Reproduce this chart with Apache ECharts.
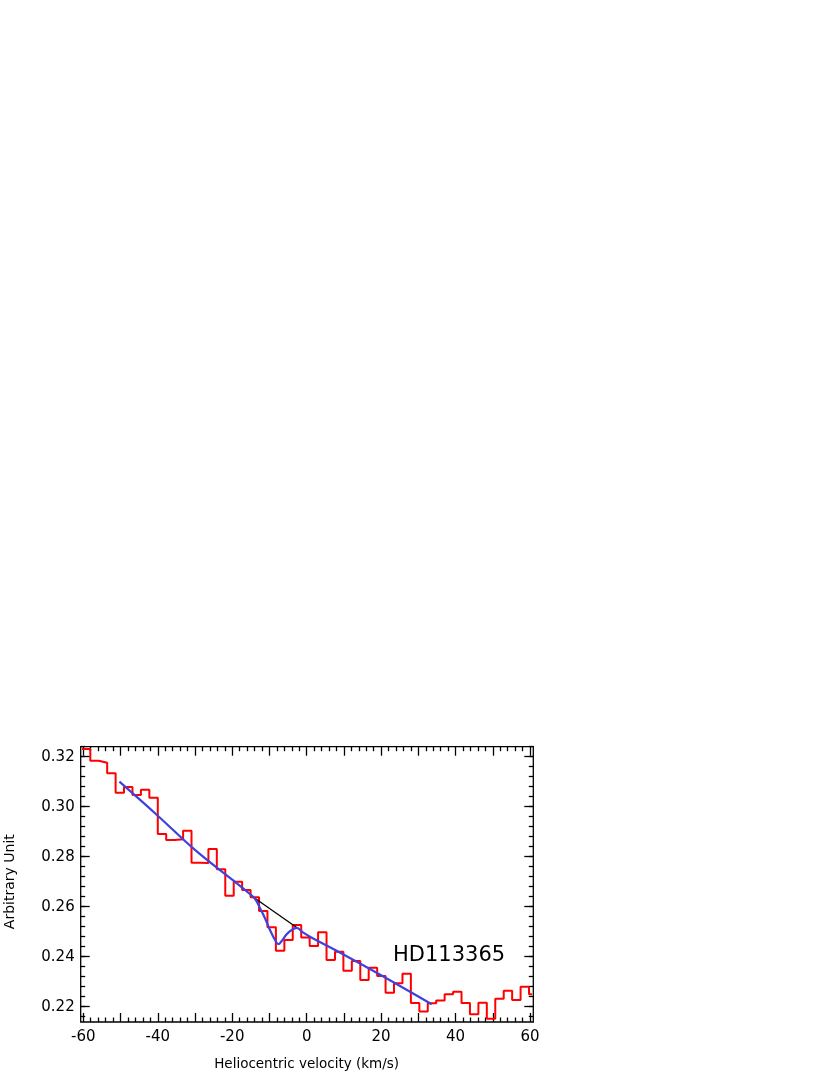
<!DOCTYPE html>
<html>
<head>
<meta charset="utf-8">
<script src="https://cdn.jsdelivr.net/npm/echarts@6/dist/echarts.min.js"></script>
<style>
  html, body { margin: 0; padding: 0; background: #fff; }
  #chart { width: 830px; height: 1075px; }
</style>
</head>
<body>
<div id="chart"></div>
<script>
    // 光谱分箱：每个箱的起点速度 (km/s)，最后一个值是画框右边
    let binStart = [-60.39, -58.12, -55.86, -53.59, -51.32, -49.06, -46.79, -44.52, -42.26, -39.99,
        -37.73, -35.46, -33.19, -30.93, -28.66, -26.39, -24.13, -21.86, -19.59, -17.33,
        -15.06, -12.79, -10.53, -8.26, -5.99, -3.73, -1.46, 0.81, 3.07, 5.34,
        7.61, 9.87, 12.14, 14.41, 16.67, 18.94, 21.20, 23.47, 25.74, 28.00,
        30.27, 32.54, 34.80, 37.07, 39.34, 41.60, 43.87, 46.14, 48.40, 50.67,
        52.94, 55.20, 57.47, 59.74, 60.9];
    // 每个箱的强度
    let flux = [0.3231, 0.3184, 0.3176, 0.3134, 0.3056, 0.3079, 0.3047, 0.3068, 0.3036, 0.2891,
        0.2867, 0.2870, 0.2904, 0.2776, 0.2775, 0.2831, 0.2750, 0.2644, 0.2700, 0.2667,
        0.2638, 0.2583, 0.2518, 0.2424, 0.2467, 0.2527, 0.2477, 0.2443, 0.2498, 0.2387,
        0.2420, 0.2344, 0.2383, 0.2307, 0.2356, 0.2323, 0.2256, 0.2294, 0.2332, 0.2215,
        0.2181, 0.2214, 0.2225, 0.2250, 0.2260, 0.2215, 0.2170, 0.2216, 0.2152, 0.2232,
        0.2264, 0.2227, 0.2280, 0.2250, 0.2250];
    // 拟合曲线（蓝）
    let fitVel = [-50.3, -40, -30, -20, -16.56, -13.9, -12.53, -11.19, -9.85, -8.5,
        -7.6, -6.7, -5.36, -4.02, -2.68, -0.9, 0.9, 10, 20, 33.6];
    let fitVal = [0.3100, 0.2964, 0.2827, 0.2708, 0.2667, 0.2632, 0.2594, 0.2554, 0.2507, 0.2467,
        0.2450, 0.2463, 0.2490, 0.2507, 0.2515, 0.2496, 0.2480, 0.2408, 0.2326, 0.2210];
    // 连续谱（黑），只在吸收线处露出来
    let contVel = [-13.9, -2.68];
    let contVal = [0.2634, 0.2517];
    // 刻度
    let xTicks = {min: -60, max: 60, step: 10, labelStep: 20};
    let yTicks = {min: 0.22, max: 0.32, step: 0.02};
    let yMinor = {min: 0.216, max: 0.324, step: 0.004};
    let starName = 'HD113365';

    let font = '"DejaVu Sans", Verdana, sans-serif';
    let tickStyle = {color: '#000', width: 1.3};

    let histData = binStart.map((v, i) => [v, flux[i]]);
    let fitData = fitVel.map((v, i) => [v, fitVal[i]]);
    let contData = contVel.map((v, i) => [v, contVal[i]]);

    let xTickAxis = function (pos, offset, showLabel) {
        return {
            type: 'value', gridIndex: 0, position: pos, offset: offset,
            min: xTicks.min, max: xTicks.max, interval: xTicks.step,
            axisLine: {show: false, onZero: false},
            axisTick: {inside: true, length: 9, lineStyle: tickStyle},
            minorTick: {show: true, splitNumber: 5, length: 4.5, lineStyle: tickStyle},
            splitLine: {show: false},
            axisLabel: {
                show: showLabel, margin: 8, fontSize: 15, color: '#000', fontFamily: font,
                formatter: function (v) {
                    return v % xTicks.labelStep === 0 ? String(v) : '';
                }
            }
        };
    };
    let yTickAxis = function (grid, pos, offset, range, len, showLabel) {
        return {
            type: 'value', gridIndex: grid, position: pos, offset: offset,
            min: range.min, max: range.max, interval: range.step,
            axisLine: {show: false, onZero: false},
            axisTick: {inside: true, length: len, lineStyle: tickStyle},
            splitLine: {show: false},
            axisLabel: {
                show: showLabel, margin: 6, fontSize: 15, color: '#000', fontFamily: font,
                formatter: function (v) {
                    return v.toFixed(2);
                }
            }
        };
    };

    let xBottom = xTickAxis('bottom', 15.3, true);
    xBottom.name = 'Heliocentric velocity (km/s)';
    xBottom.nameLocation = 'middle';
    xBottom.nameGap = 35;
    xBottom.nameTextStyle = {fontSize: 13.5, color: '#000', fontFamily: font};

    let yLeft = yTickAxis(0, 'left', 2.6, yTicks, 9, true);
    yLeft.name = 'Arbitrary Unit';
    yLeft.nameLocation = 'middle';
    yLeft.nameGap = 63;
    yLeft.nameTextStyle = {fontSize: 14, color: '#000', fontFamily: font};

    let myChart = echarts.init(document.getElementById('chart'));
    let option = {
        backgroundColor: '#fff',
        animation: false,
        grid: [
            // 数据区
            {left: 83.3, right: 300, top: 756.7, bottom: 68.3, outerBoundsMode: 'none'},
            // 纵轴小刻度
            {left: 80.7, right: 296.7, top: 746.7, bottom: 58.3, outerBoundsMode: 'none'},
            // 外框
            {left: 80.7, right: 296.7, top: 746.7, bottom: 53, show: true, outerBoundsMode: 'none',
                borderColor: '#000', borderWidth: 1.3, backgroundColor: 'transparent'}
        ],
        xAxis: [
            xBottom,
            xTickAxis('top', 10, false),
            {type: 'value', gridIndex: 1, show: false},
            {type: 'value', gridIndex: 2, show: false}
        ],
        yAxis: [
            yLeft,
            yTickAxis(0, 'right', 3.3, yTicks, 9, false),
            yTickAxis(1, 'left', 0, yMinor, 4.5, false),
            yTickAxis(1, 'right', 0, yMinor, 4.5, false),
            {type: 'value', gridIndex: 2, show: false}
        ],
        graphic: [{
            type: 'text', left: 393, top: 945,
            style: {text: starName, font: '21px ' + font, fill: '#000'}
        }],
        series: [{
            name: 'spectrum',
            type: 'line',
            xAxisIndex: 0, yAxisIndex: 0,
            step: 'end',
            clip: false,
            showSymbol: false,
            symbol: 'none',
            lineStyle: {color: '#ff0000', width: 2},
            data: histData,
            z: 2
        }, {
            name: 'continuum',
            type: 'line',
            xAxisIndex: 0, yAxisIndex: 0,
            clip: false,
            symbol: 'none',
            lineStyle: {color: '#000', width: 1.3},
            data: contData,
            z: 3
        }, {
            name: 'fit',
            type: 'line',
            xAxisIndex: 0, yAxisIndex: 0,
            clip: false,
            symbol: 'none',
            smooth: 0.4,
            lineStyle: {color: '#4040dd', width: 2.2},
            data: fitData,
            z: 4
        }]
    };
    myChart.setOption(option);
</script>
</body>
</html>
